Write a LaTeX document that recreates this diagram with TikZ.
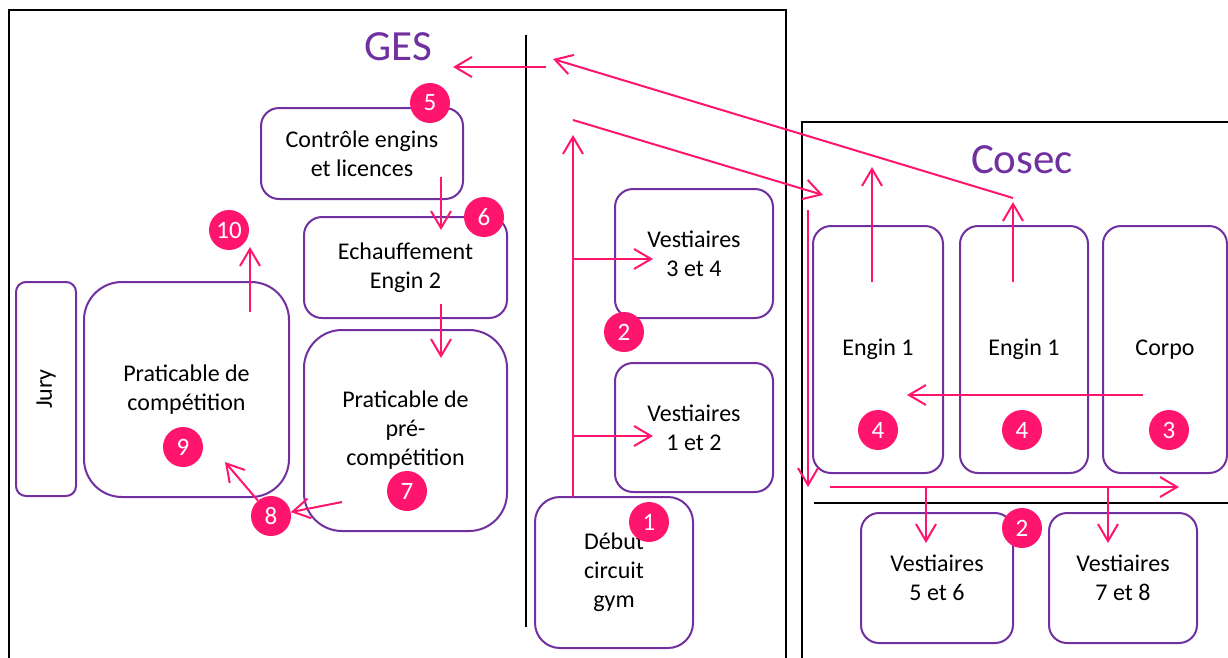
\documentclass[tikz,border=0pt]{standalone}
\usepackage{fontspec}
\setmainfont{Carlito}
\usetikzlibrary{arrows.meta}
\definecolor{pur}{RGB}{112,48,160}
\definecolor{pk}{RGB}{255,20,110}
\begin{document}
\begin{tikzpicture}[x=1pt,y=-1pt,
  frame/.style={draw=black, line width=2.5pt},
  box/.style={draw=pur, line width=2pt, rounded corners=18pt, align=center, inner sep=0pt,
    font=\fontsize{24}{29}\selectfont},
  bigbox/.style={box, rounded corners=38pt},
  num/.style={circle, fill=pk, text=white, minimum size=40pt, inner sep=0pt,
    font=\fontsize{25}{25}\selectfont},
  title/.style={text=pur, font=\fontsize{43}{43}\selectfont},
  pa/.style={draw=pk, line width=2pt, -{Straight Barb[length=17pt,width=20pt]}}]
\useasboundingbox (0,0) rectangle (1228,657);
\fill[white] (0,0) rectangle (1228,657);
% frames
\draw[frame] (9,662) -- (9,10) -- (786,10) -- (786,662);
\draw[frame] (802,662) -- (802,122) -- (1232,122);
\draw[frame] (526,35) -- (526,627);
\draw[frame] (814,503) -- (1232,503);
% titles
\node[title] (ges) at (398,47) {GES};
\node[title] (cosec) at (1022,160) {Cosec};
% boxes
\node[box, minimum width=202pt, minimum height=91pt] (ctrl) at (362,153.5) {Contrôle engins\\et licences};
\node[box, minimum width=203pt, minimum height=101pt] (ech) at (405.5,267.5) {Echauffement\\Engin 2};
\node[box, rounded corners=10pt, minimum width=60pt, minimum height=214pt] (jury) at (46,389) {};
\node[font=\fontsize{24}{29}\selectfont, rotate=90] (juryt) at (jury.center) {Jury};
\node[bigbox, minimum width=205pt, minimum height=215pt] (comp) at (186.5,389.5) {Praticable de\\compétition};
\node[bigbox, minimum width=203pt, minimum height=201pt] (prec) at (405.5,430.5) {Praticable de\\pré-\\compétition};
\node[box, minimum width=158pt, minimum height=129pt] (v34) at (694,253.5) {Vestiaires\\3 et 4};
\node[box, minimum width=158pt, minimum height=129pt] (v12) at (694,427.5) {Vestiaires\\1 et 2};
\node[box, rounded corners=25pt, minimum width=158pt, minimum height=151pt] (deb) at (614,572.5) {Début\\circuit\\gym};
\node[box, minimum width=130pt, minimum height=247pt] (e1a) at (878,349.5) {Engin 1};
\node[box, minimum width=128pt, minimum height=247pt] (e1b) at (1024,349.5) {Engin 1};
\node[box, minimum width=124pt, minimum height=247pt] (corpo) at (1165,349.5) {Corpo};
\node[box, minimum width=152pt, minimum height=130pt] (v56) at (937,578) {Vestiaires\\5 et 6};
\node[box, minimum width=148pt, minimum height=130pt] (v78) at (1123,578) {Vestiaires\\7 et 8};
% numbered circles
\node[num] (n5) at (430,103) {5};
\node[num] (n6) at (484,217) {6};
\node[num] (n10) at (229,230) {10};
\node[num] (n2a) at (624,332) {2};
\node[num] (n1) at (649,522) {1};
\node[num] (n9) at (183,447) {9};
\node[num] (n8) at (271,516) {8};
\node[num] (n7) at (407,491) {7};
\node[num] (n4a) at (878,430) {4};
\node[num] (n4b) at (1022,430) {4};
\node[num] (n3) at (1169,430) {3};
\node[num] (n2b) at (1022,528) {2};
% connector end points
\coordinate (gesS) at (546,67);
\coordinate (gesT) at (453,67);
\coordinate (dgS) at (1013,198);
\coordinate (dgT) at (553,59);
\coordinate (d2S) at (573,120);
\coordinate (d2T) at (823,195);
\coordinate (upS) at (573,497);
\coordinate (upT) at (573,135);
\coordinate (b34) at (573,259);
\coordinate (b34T) at (653,259);
\coordinate (b12) at (573,436);
\coordinate (b12T) at (653,436);
\coordinate (c1S) at (441,177);
\coordinate (c1T) at (441,230);
\coordinate (c2S) at (441,304);
\coordinate (c2T) at (441,358);
\coordinate (s7) at (342,502);
\coordinate (s9T) at (225,462);
\coordinate (s10S) at (250,312);
\coordinate (s10T) at (250,247);
\coordinate (eaS) at (872,282);
\coordinate (eaT) at (872,167);
\coordinate (ebS) at (1013,282);
\coordinate (ebT) at (1013,202);
\coordinate (coS) at (1143,395);
\coordinate (coT) at (907,395);
\coordinate (dnS) at (808,210);
\coordinate (dnT) at (808,487);
\coordinate (hS) at (830,487);
\coordinate (hT) at (1179,487);
\coordinate (h56) at (926,487);
\coordinate (h56T) at (926,543);
\coordinate (h78) at (1108,487);
\coordinate (h78T) at (1108,543);
% connectors
\draw[pa] (gesS) -- (gesT);
\draw[pa] (dgS) -- (dgT);
\draw[pa] (d2S) -- (d2T);
\draw[pa] (upS) -- (upT);
\draw[pa] (b34) -- (b34T);
\draw[pa] (b12) -- (b12T);
\draw[pa] (c1S) -- (c1T);
\draw[pa] (c2S) -- (c2T);
\draw[pa] (s7) -- (n8);
\draw[pa] (n8) -- (s9T);
\draw[pa] (s10S) -- (s10T);
\draw[pa] (eaS) -- (eaT);
\draw[pa] (ebS) -- (ebT);
\draw[pa] (coS) -- (coT);
\draw[pa] (dnS) -- (dnT);
\draw[pa] (hS) -- (hT);
\draw[pa] (h56) -- (h56T);
\draw[pa] (h78) -- (h78T);
\end{tikzpicture}
\end{document}
